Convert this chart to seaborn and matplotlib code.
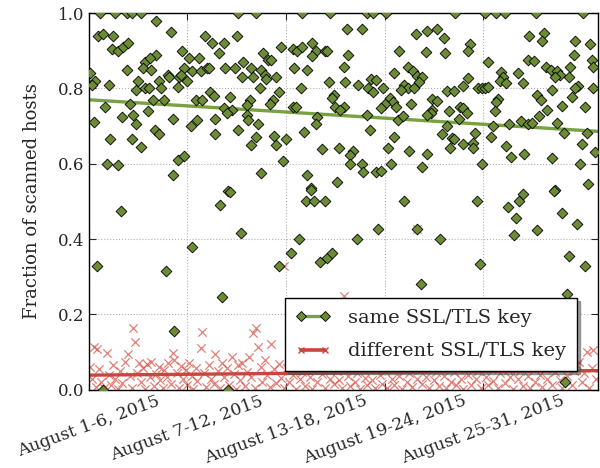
import matplotlib
matplotlib.use('Agg')
import matplotlib.pyplot as plt
from matplotlib.lines import Line2D
import seaborn as sns
import pandas as pd

# x: day offset from August 1, y: fraction of scanned hosts
same_days = [
    0.7, 1.6, 2.3, 2.6, 3.2, 4.1, 0.55, 0.85, 1.5, 5.0, 1.4, 1.8, 2.1, 2.4, 4.1, 3.4, 3.7, 5.7, 6.1, 6.7,
    2.3, 3.3, 3.8, 5.8, 0.05, 0.4, 0.2, 1.2, 3.0, 4.3, 4.8, 4.9, 5.5, 5.6, 6.0, 6.3, 6.8, 7.2, 2.9, 3.4,
    3.65, 4.4, 5.4, 3.9, 4.6, 2.5, 1.0, 6.5, 6.9, 3.6, 2.7, 2.0, 0.3, 5.1, 2.9, 6.6, 6.2, 4.0, 4.3, 1.3,
    2.6, 3.2, 1.1, 1.8, 5.4, 5.8, 5.1,
    9.1, 10.2, 13.0, 7.1, 9.0, 7.5, 8.2, 11.7, 12.4, 12.7, 13.0, 13.6, 13.8, 13.6, 14.4, 7.9, 10.6, 10.9,
    11.1, 9.4, 7.3, 8.3, 8.9, 9.9, 10.5, 10.7, 10.8, 11.4, 12.5, 13.3, 9.3, 10.0, 10.4, 12.9, 7.4, 7.6,
    8.6, 9.8, 9.6, 11.6, 11.2, 11.0, 8.2, 8.7, 8.4, 12.4, 12.6, 9.6, 9.7, 10.3, 7.7, 13.9, 13.85, 9.1,
    7.7, 13.1, 11.3, 12.0, 11.4, 10.2, 9.9, 14.2, 11.8, 10.5, 13.3, 13.5, 8.5,
    0.5, 1.95, 4.7, 5.2, 6.3, 8.0, 8.6, 8.1, 9.25, 11.6, 12.3, 12.8, 13.2, 13.7, 14.4, 13.5, 14.1, 14.5,
    14.8, 0.85, 8.5,
    16.3, 17.6, 19.2, 20.0, 21.4, 20.2, 23.6, 23.8, 25.5, 26.2, 26.4, 26.0, 25.9, 27.3, 28.4, 28.8, 29.7,
    29.2, 30.2, 29.1, 29.0,
    14.7, 16.9, 17.3, 18.1, 22.3, 15.7, 16.6, 19.9, 20.6, 21.2, 21.6, 14.5, 15.8, 18.9, 20.5, 21.7, 15.5,
    18.6, 19.4, 19.7, 20.0, 20.3, 20.1, 14.6, 15.6, 16.4, 17.2, 17.5, 17.0, 17.3, 17.9, 19.2, 19.4, 19.0,
    19.8, 21.8, 22.2, 14.9, 14.8, 18.3, 18.5, 18.0, 17.8, 18.7, 19.6, 20.9, 21.2, 15.0, 15.5, 15.3, 20.9,
    20.8, 20.6, 21.9, 16.9, 18.8, 19.1, 21.8, 17.1, 21.5, 18.6, 22.1, 22.0, 15.2, 18.2, 19.5, 20.6, 16.1,
    15.9, 15.9, 16.6, 16.7, 18.4, 20.3, 17.5, 17.8, 15.1,
    24.1, 24.8, 25.3, 27.2, 30.1, 26.8, 27.7, 27.6, 29.6, 30.5, 23.2, 23.1, 29.5, 24.3, 26.7, 27.1, 30.6,
    30.7, 27.8, 28.1, 28.5, 28.7, 28.4, 29.3, 29.2, 25.1, 25.2, 25.0, 25.4, 26.1, 26.4, 23.1, 22.8, 23.7,
    23.9, 24.1, 24.3, 28.2, 29.8, 29.6, 30.7, 27.3, 27.5, 24.9, 24.8, 24.7, 29.4, 28.8, 30.2, 22.6, 22.8,
    23.0, 22.5, 27.9, 27.4, 26.3, 26.7, 27.0, 25.6, 28.5, 24.6, 24.5, 23.5, 28.9, 30.3, 22.2, 22.8, 23.4,
    23.4, 25.4, 25.7, 26.5, 28.2, 30.0, 30.8, 23.9, 29.9, 30.4, 28.3,
]
same_frac = [
    1.0, 1.0, 1.0, 1.0, 1.0, 0.98, 0.94, 0.945, 0.94, 0.95, 0.905, 0.90, 0.91, 0.92, 0.89, 0.87, 0.88, 0.90, 0.88, 0.88,
    0.85, 0.855, 0.85, 0.855, 0.84, 0.82, 0.81, 0.81, 0.82, 0.82, 0.835, 0.83, 0.83, 0.835, 0.82, 0.845, 0.845, 0.855, 0.795, 0.80,
    0.80, 0.80, 0.805, 0.77, 0.77, 0.76, 0.75, 0.77, 0.77, 0.74, 0.73, 0.725, 0.71, 0.72, 0.705, 0.715, 0.70, 0.69, 0.68, 0.665,
    0.665, 0.645, 0.60, 0.597, 0.61, 0.62, 0.57,
    1.0, 1.0, 1.0, 0.94, 0.94, 0.92, 0.92, 0.91, 0.905, 0.90, 0.91, 0.92, 0.90, 0.885, 0.90, 0.895, 0.895, 0.875,
    0.875, 0.87, 0.855, 0.855, 0.855, 0.855, 0.85, 0.835, 0.825, 0.83, 0.855, 0.85, 0.83, 0.83, 0.80, 0.80, 0.79, 0.78,
    0.777, 0.77, 0.755, 0.79, 0.77, 0.76, 0.748, 0.743, 0.735, 0.75, 0.75, 0.73, 0.715, 0.705, 0.72, 0.724, 0.705, 0.69,
    0.68, 0.685, 0.675, 0.665, 0.65, 0.67, 0.65, 0.64, 0.607, 0.575, 0.57, 0.535, 0.528,
    0.33, 0.475, 0.315, 0.155, 0.38, 0.49, 0.525, 0.247, 0.415, 0.33, 0.363, 0.40, 0.50, 0.50, 0.50, 0.53, 0.34, 0.35,
    0.363, 0.0, 0.0,
    0.40, 0.427, 0.50, 0.427, 0.40, 0.28, 0.50, 0.335, 0.485, 0.50, 0.52, 0.455, 0.41, 0.425, 0.53, 0.47, 0.44,
    0.355, 0.33, 0.255, 0.02,
    1.0, 1.0, 1.0, 1.0, 1.0, 0.957, 0.957, 0.945, 0.952, 0.957, 0.933, 0.90, 0.89, 0.90, 0.897, 0.894, 0.857,
    0.84, 0.857, 0.846, 0.833, 0.83, 0.817, 0.817, 0.817, 0.81, 0.825, 0.822, 0.80, 0.79, 0.80, 0.81, 0.80, 0.795,
    0.80, 0.793, 0.793, 0.783, 0.775, 0.775, 0.765, 0.76, 0.748, 0.75, 0.76, 0.772, 0.767, 0.75, 0.75, 0.743, 0.743,
    0.735, 0.73, 0.74, 0.73, 0.716, 0.727, 0.70, 0.69, 0.68, 0.67, 0.668, 0.642, 0.642, 0.642, 0.634, 0.626, 0.634,
    0.623, 0.60, 0.60, 0.578, 0.60, 0.592, 0.578, 0.58, 0.552,
    1.0, 1.0, 1.0, 1.0, 1.0, 0.94, 0.947, 0.926, 0.926, 0.918, 0.918, 0.90, 0.889, 0.87, 0.875, 0.873, 0.875,
    0.857, 0.857, 0.85, 0.846, 0.835, 0.83, 0.857, 0.83, 0.843, 0.83, 0.82, 0.815, 0.84, 0.815, 0.828, 0.806, 0.80,
    0.80, 0.80, 0.804, 0.796, 0.806, 0.80, 0.80, 0.783, 0.77, 0.772, 0.765, 0.74, 0.777, 0.753, 0.75, 0.75, 0.748,
    0.735, 0.72, 0.743, 0.727, 0.714, 0.705, 0.708, 0.705, 0.708, 0.70, 0.67, 0.682, 0.682, 0.682, 0.666, 0.652, 0.655,
    0.642, 0.647, 0.618, 0.626, 0.615, 0.652, 0.63, 0.60, 0.60, 0.546, 0.528,
]

diff_days = [
    0.1, 0.2, 0.3, 0.45, 0.5, 0.6, 0.75, 0.9, 1.1, 1.2, 1.35, 1.5, 1.6, 1.75, 1.9, 2.05, 2.2, 2.4, 2.5, 2.6, 2.7, 2.8, 2.95,
    3.05, 3.15, 3.3, 3.45, 3.55, 3.7, 3.8, 3.95, 4.1, 4.25, 4.35, 4.5, 4.6, 4.75, 4.85, 5.0, 5.1, 5.2, 5.35, 5.5, 5.6, 5.75, 5.9,
    6.0, 6.1, 6.25, 6.35, 6.5, 6.6, 6.8, 6.9, 7.0, 7.15, 7.3, 7.45, 7.6, 7.7, 7.85, 8.0, 8.1, 8.25, 8.4, 8.55, 8.7, 8.85, 8.95,
    9.1, 9.2, 9.35, 9.5, 9.6, 9.75, 9.85, 10.0, 10.1, 10.2, 10.3, 10.45, 10.55, 10.7, 10.85, 11.0, 11.1, 11.25, 11.4, 11.55, 11.7, 11.85, 11.9,
    12.05, 12.2, 12.3, 12.45, 12.6, 12.7, 12.85, 13.0, 13.15, 13.3, 13.45, 13.6, 13.75, 13.9, 14.05, 14.2, 14.35, 14.5, 14.65, 14.8, 14.95,
    15.1, 15.25, 15.4, 15.5, 15.6, 15.75, 15.9, 16.05, 16.2, 16.35, 16.5, 16.65, 16.8, 16.95, 17.1, 17.25, 17.4, 17.55, 17.7, 17.85,
    18.0, 18.15, 18.3, 18.45, 18.6, 18.75, 18.9, 19.05, 19.2, 19.35, 19.5, 19.65, 19.8, 19.95, 20.0, 20.1, 20.25, 20.4, 20.55, 20.7, 20.85,
    21.0, 21.15, 21.3, 21.45, 21.6, 21.75, 21.9, 22.05, 22.2, 22.35, 22.5, 22.65, 22.8, 22.95, 23.1, 23.25, 23.4, 23.55, 23.7, 23.85,
    24.0, 24.15, 24.3, 24.45, 24.6, 24.75, 24.9, 25.05, 25.2, 25.35, 25.5, 25.65, 25.8, 25.95, 26.1, 26.25, 26.4, 26.55, 26.7, 26.85,
    27.0, 27.15, 27.3, 27.45, 27.6, 27.75, 27.9, 28.05, 28.2, 28.35, 28.5, 28.65, 28.8, 28.95, 29.1, 29.25, 29.4, 29.55, 29.7, 29.85,
    30.0, 30.15, 30.3, 30.45, 30.6, 30.7, 30.85,
]
diff_frac = [
    0.06, 0.03, 0.114, 0.008, 0.109, 0.056, 0.02, 0.004, 0.098, 0.04, 0.012, 0.065, 0.028, 0.003, 0.05, 0.017, 0.074, 0.095, 0.036, 0.006, 0.164, 0.128, 0.045,
    0.07, 0.022, 0.058, 0.002, 0.068, 0.033, 0.075, 0.011, 0.042, 0.06, 0.025, 0.005, 0.052, 0.035, 0.07, 0.015, 0.098, 0.08, 0.045, 0.004, 0.062, 0.03, 0.053,
    0.012, 0.072, 0.038, 0.002, 0.058, 0.024, 0.112, 0.154, 0.046, 0.008, 0.066, 0.03, 0.016, 0.095, 0.05, 0.004, 0.07, 0.035, 0.057, 0.014, 0.087, 0.042, 0.003,
    0.065, 0.027, 0.07, 0.01, 0.048, 0.087, 0.033, 0.15, 0.005, 0.164, 0.114, 0.06, 0.022, 0.078, 0.04, 0.007, 0.122, 0.055, 0.018, 0.068, 0.032, 0.005, 0.33,
    0.058, 0.02, 0.074, 0.04, 0.003, 0.062, 0.028, 0.048, 0.01, 0.068, 0.035, 0.002, 0.055, 0.022, 0.075, 0.042, 0.006, 0.06, 0.03, 0.085, 0.015,
    0.05, 0.025, 0.004, 0.25, 0.065, 0.038, 0.01, 0.058, 0.02, 0.045, 0.003, 0.07, 0.032, 0.012, 0.055, 0.027, 0.004, 0.062, 0.04, 0.016,
    0.05, 0.006, 0.068, 0.03, 0.012, 0.055, 0.038, 0.003, 0.06, 0.022, 0.044, 0.008, 0.07, 0.03, 0.427, 0.052, 0.015, 0.064, 0.035, 0.004, 0.058,
    0.025, 0.047, 0.01, 0.072, 0.036, 0.005, 0.06, 0.02, 0.048, 0.012, 0.066, 0.03, 0.003, 0.055, 0.04, 0.014, 0.07, 0.028, 0.05, 0.006,
    0.062, 0.033, 0.012, 0.056, 0.024, 0.072, 0.004, 0.045, 0.066, 0.018, 0.052, 0.035, 0.002, 0.068, 0.028, 0.05, 0.01, 0.06, 0.038, 0.004,
    0.058, 0.02, 0.07, 0.04, 0.008, 0.055, 0.03, 0.064, 0.014, 0.048, 0.076, 0.025, 0.004, 0.06, 0.036, 0.082, 0.012, 0.05, 0.066, 0.074,
    0.02, 0.045, 0.1, 0.006, 0.058, 0.106, 0.03,
]

# linear trend lines, start and end of the period
trend_days = [0, 31]
same_trend = [0.77, 0.686]
diff_trend = [0.039, 0.051]

tick_days = [0, 6, 12, 18, 24]
tick_labels = ['August 1-6, 2015', 'August 7-12, 2015', 'August 13-18, 2015',
               'August 19-24, 2015', 'August 25-31, 2015']

green_face = '#6b8b35'
green_line = '#78a142'
red_mark = '#d4493f'
red_line = '#c7463d'

sns.set_style('ticks')
plt.rcParams['font.family'] = ['DejaVu Serif']
plt.rcParams['mathtext.fontset'] = 'dejavuserif'

same_df = pd.DataFrame({'day': same_days, 'frac': same_frac})
diff_df = pd.DataFrame({'day': diff_days, 'frac': diff_frac})
trend_df = pd.DataFrame({'day': trend_days, 'same': same_trend, 'diff': diff_trend})

fig = plt.figure(figsize=(6, 4.68), dpi=100)
ax = fig.add_axes([0.148, 0.167, 0.849, 0.805])

sns.scatterplot(data=diff_df, x='day', y='frac', ax=ax, marker='x', s=36,
                color=red_mark, alpha=0.7, linewidth=0.9, zorder=1, legend=False)
sns.lineplot(data=trend_df, x='day', y='diff', ax=ax, color=red_line, lw=2.4,
             zorder=2, legend=False)
sns.lineplot(data=trend_df, x='day', y='same', ax=ax, color=green_line, lw=2.4,
             zorder=2, legend=False)
sns.scatterplot(data=same_df, x='day', y='frac', ax=ax, marker='D', s=30,
                color=green_face, edgecolor='black', linewidth=0.6, zorder=3,
                legend=False)

ax.set_xlim(0, 31)
ax.set_ylim(0, 1)
ax.set_xticks(tick_days)
ax.set_xticklabels(tick_labels, rotation=20, ha='center', fontsize=12.4)
ax.set_yticks([0.0, 0.2, 0.4, 0.6, 0.8, 1.0])
ax.set_yticklabels(['0.0', '0.2', '0.4', '0.6', '0.8', '1.0'], fontsize=12)
ax.set_xlabel('')
ax.set_ylabel('Fraction of scanned hosts', fontsize=13, labelpad=12)
ax.grid(True, linestyle=':', color='0.7', linewidth=0.8)
ax.tick_params(direction='in', top=True, right=True, length=5, width=0.8)
ax.tick_params(axis='x', pad=2)
for sp in ax.spines.values():
    sp.set_color('black')
    sp.set_linewidth(1.0)

handles = [
    Line2D([], [], color=green_line, lw=2.4, marker='D', markersize=5,
           markerfacecolor=green_face, markeredgecolor='black', markeredgewidth=0.6),
    Line2D([], [], color=red_line, lw=2.6, marker='x', markersize=5,
           markeredgecolor=red_line, markeredgewidth=1.0),
]
leg = ax.legend(handles, ['same SSL/TLS key', 'different SSL/TLS key'],
                loc='lower right', bbox_to_anchor=(0.958, 0.05), borderaxespad=0,
                fontsize=14, numpoints=2, fancybox=False, shadow=True,
                frameon=True, framealpha=1, edgecolor='black', handlelength=1.8,
                handletextpad=0.9, labelspacing=0.8, borderpad=0.55)
leg.get_frame().set_linewidth(1.0)

fig.savefig('out.png', dpi=100)
